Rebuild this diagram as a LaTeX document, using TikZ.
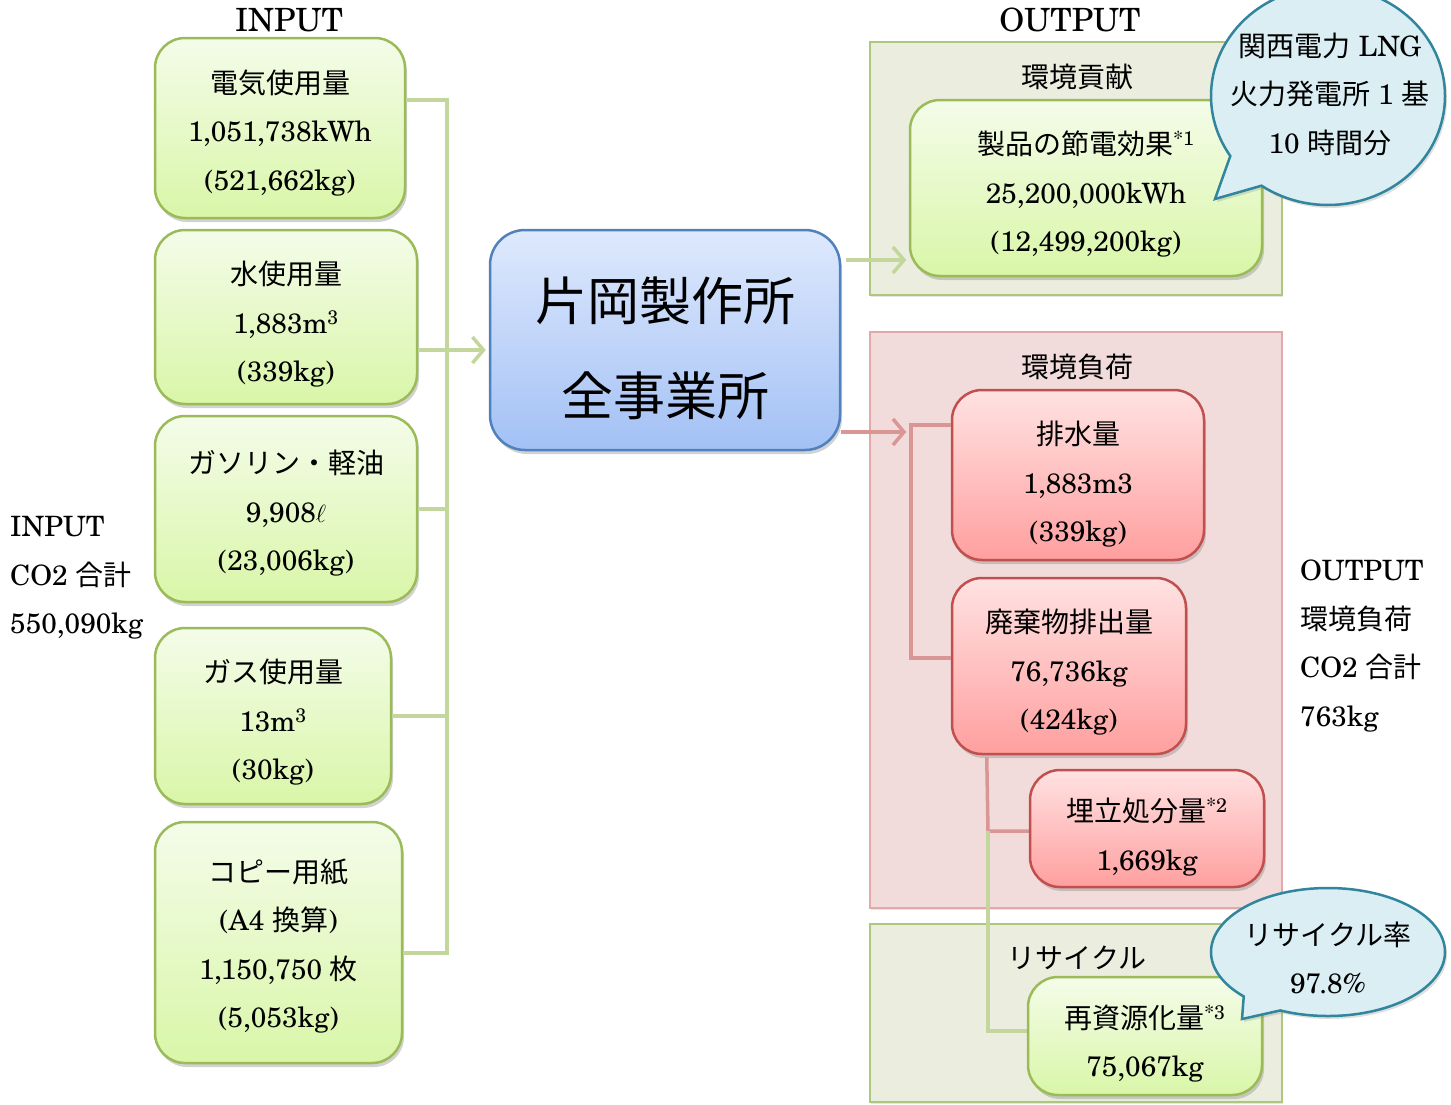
\documentclass[tikz,border=0pt]{standalone}
\usepackage{fontspec}
\setmainfont{texgyreschola-regular.otf}
\newfontfamily\jpf{Noto Sans CJK JP}
\newcommand\JP[1]{{\jpf #1}}
\newcommand\sd[1]{\rule{0pt}{#1pt}}
\usetikzlibrary{shapes.callouts,shadows,arrows.meta,calc}
\definecolor{gTop}{HTML}{F4FCE9}
\definecolor{gBot}{HTML}{D9F6A8}
\definecolor{gBorder}{HTML}{9BBB59}
\definecolor{rTop}{HTML}{FFE2E2}
\definecolor{rBot}{HTML}{FF9F9F}
\definecolor{rBorder}{HTML}{C0504D}
\definecolor{bTop}{HTML}{DEE9FD}
\definecolor{bBot}{HTML}{A3C1F5}
\definecolor{bBorder}{HTML}{4F81BD}
\definecolor{gcFill}{HTML}{EBEEDF}
\definecolor{gcBorder}{HTML}{ADC77F}
\definecolor{rcFill}{HTML}{F2DCDB}
\definecolor{rcBorder}{HTML}{E3A9A8}
\definecolor{gLine}{HTML}{C3D69B}
\definecolor{rLine}{HTML}{D99694}
\definecolor{cFill}{HTML}{DAEEF3}
\definecolor{cBorder}{HTML}{31859C}
\begin{document}
\begin{tikzpicture}[x=1pt,y=-1pt,
  base/.style={rounded corners=30pt, line width=2.5pt, inner sep=0pt, align=center,
    font=\fontsize{28}{48.5}\selectfont,
    drop shadow={shadow xshift=2pt,shadow yshift=-4pt,opacity=0.35}},
  gbox/.style={base, draw=gBorder, top color=gTop, bottom color=gBot},
  rbox/.style={base, draw=rBorder, top color=rTop, bottom color=rBot},
  bbox/.style={base, draw=bBorder, top color=bTop, bottom color=bBot, rounded corners=35pt,
    font=\fontsize{52}{95}\selectfont},
  cont/.style={line width=2.5pt, inner sep=0pt,
    drop shadow={shadow xshift=1pt,shadow yshift=-2pt,opacity=0.2}},
  gcont/.style={cont, draw=gcBorder, fill=gcFill},
  rcont/.style={cont, draw=rcBorder, fill=rcFill},
  gline/.style={draw=gLine, line width=3.5pt},
  rline/.style={draw=rLine, line width=3.5pt},
  garrow/.style={gline, -{Straight Barb[length=11pt,width=26pt]}},
  rarrow/.style={rline, -{Straight Barb[length=11pt,width=26pt]}},
  bubble/.style={ellipse callout, draw=cBorder, fill=cFill, line width=2.5pt, inner sep=0pt,
    callout pointer arc=22,
    drop shadow={shadow xshift=2pt,shadow yshift=-3pt,opacity=0.25}},
  txt/.style={inner sep=0pt, font=\fontsize{28}{48.5}\selectfont},
  head/.style={inner sep=0pt, font=\fontsize{32}{36}\selectfont}
]
\path[use as bounding box, clip] (0,0) rectangle (1451,1104);
\fill[white] (0,0) rectangle (1451,1104);

% headings
\node[head] (hin) at (289,20) {INPUT};
\node[head] (hout) at (1070,20) {OUTPUT};

% containers
\node[gcont, minimum width=412pt, minimum height=253pt] (gc1) at (1076,168.5) {};
\node[rcont, minimum width=412pt, minimum height=576pt] (rcn) at (1076,620) {};
\node[gcont, minimum width=412pt, minimum height=178pt] (gc2) at (1076,1013) {};
\node[txt] (t1) at (1077,77) {\JP{環境貢献}};
\node[txt] (t2) at (1077,367) {\JP{環境負荷}};
\node[txt] (t3) at (1077,958) {\JP{リサイクル}};

% coordinates for connector corners
\coordinate (bt) at (447,100);
\coordinate (bb) at (447,953);
\coordinate (bk) at (911,658);
\coordinate (jn) at (988,831);
\coordinate (rj) at (988,1031);

% left boxes
\node[gbox, minimum width=250pt, minimum height=180pt] (e1) at (280,128)
  {\sd{33.6}\JP{電気使用量}\\1,051,738kWh\\(521,662kg)};
\node[gbox, minimum width=262pt, minimum height=174pt] (w) at (286,317)
  {\sd{38.6}\JP{水使用量}\\1,883m\textsuperscript{3}\\(339kg)};
\node[gbox, minimum width=262pt, minimum height=186pt] (g) at (286,509)
  {\sd{32.6}\JP{ガソリン・軽油}\\9,908$\ell$\\(23,006kg)};
\node[gbox, minimum width=236pt, minimum height=176pt] (gs) at (273,716)
  {\sd{36.6}\JP{ガス使用量}\\13m\textsuperscript{3}\\(30kg)};
\node[gbox, minimum width=247pt, minimum height=241pt] (p) at (278.5,942.5)
  {\sd{30.6}\JP{コピー用紙}\\(A4 \JP{換算})\\1,150,750 \JP{枚}\\(5,053kg)};

% centre box
\node[bbox, minimum width=350pt, minimum height=220pt] (c) at (665,340)
  {\sd{59.8}\JP{片岡製作所}\\\JP{全事業所}};

% connectors
\draw[gline] ($(e1.east)+(0,-28)$) -- (bt) -- (bb) -- (p.east |- bb);
\draw[gline] (g.east) -- (g.east -| bt);
\draw[gline] (gs.east) -- (gs.east -| bt);
\draw[garrow] ($(w.east)+(0,33)$) -- ($(c.west)+(-3,10)$);
\draw[garrow] ($(c.east)+(5,-80)$) -- ++(60,0);
\draw[rarrow] ($(c.east)+(0,92)$) -- ++(65,0);

% output boxes
\node[rbox, minimum width=252pt, minimum height=170pt] (dw) at (1078,475)
  {\sd{42.6}\JP{排水量}\\1,883m3\\(339kg)};
\node[rbox, minimum width=234pt, minimum height=176pt] (wd) at (1069,666)
  {\sd{36.6}\JP{廃棄物排出量}\\76,736kg\\(424kg)};
\draw[rline] ($(dw.west)+(0,-50)$) -| (bk) -- ($(wd.west)+(0,-8)$);
\draw[rline] ($(wd.south west)+(36,2)$) -- (jn) -- (jn -| 1030,0);
\draw[gline] (jn) -- (rj) -- (rj -| 1028,0);
\node[rbox, minimum width=234pt, minimum height=117pt] (lf) at (1147,828.5)
  {\sd{40.6}\JP{埋立処分量}\textsuperscript{*2}\\1,669kg};
\node[gbox, minimum width=234pt, minimum height=118pt] (rc) at (1145,1036)
  {\sd{38.6}\JP{再資源化量}\textsuperscript{*3}\\75,067kg};
\node[gbox, minimum width=352pt, minimum height=176pt] (pe) at (1086,188)
  {\sd{36.6}\JP{製品の節電効果}\textsuperscript{*1}\\25,200,000kWh\\(12,499,200kg)};

% side texts
\node[txt, anchor=west, align=left] (inl) at (10,578)
  {INPUT\\CO2 \JP{合計}\\550,090kg};
\node[txt, anchor=west, align=left] (outl) at (1300,646)
  {OUTPUT\\\JP{環境負荷}\\CO2 \JP{合計}\\763kg};

% callouts
\node[bubble, minimum width=234pt, minimum height=218pt,
  callout absolute pointer={(1215,199)}] (cb1) at (1328,96) {};
\node[txt, align=center] (cb1t) at (1330,94)
  {\JP{関西電力} LNG\\\JP{火力発電所} 1 \JP{基}\\10 \JP{時間分}};
\node[bubble, minimum width=234pt, minimum height=128pt,
  callout absolute pointer={(1242,1019)}] (cb2) at (1328,952) {};
\node[txt, align=center] (cb2t) at (1328,958)
  {\JP{リサイクル率}\\97.8\%};
\end{tikzpicture}
\end{document}
